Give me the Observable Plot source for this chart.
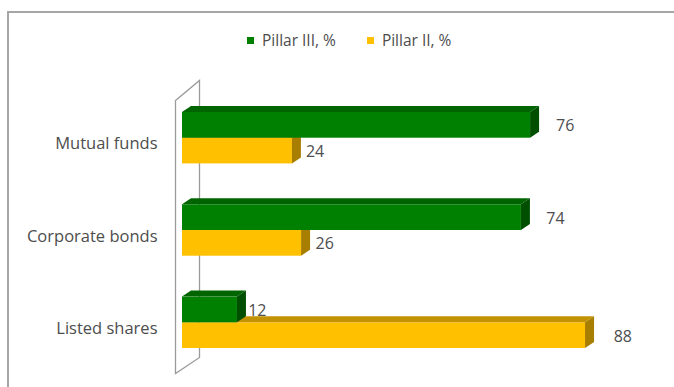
<!DOCTYPE html>
<html><head><meta charset="utf-8">
<script src="https://cdn.jsdelivr.net/npm/d3@7"></script>
<script src="https://cdn.jsdelivr.net/npm/@observablehq/plot@0.6"></script>
<style>
body{margin:0;background:#fff;font-family:"Open Sans",sans-serif;}
#chart{position:relative;width:674px;height:387px;overflow:hidden;background:#fff;}
#frame{position:absolute;left:7px;top:11px;width:720px;height:420px;border:2px solid #a6a6a6;box-sizing:border-box;}
#legend{position:absolute;top:0;left:0;width:674px;height:60px;}
#legend .items{position:absolute;left:247px;top:29px;display:flex;align-items:center;font-size:15.5px;color:#4d4d4d;white-space:nowrap;}
#legend .sw{display:inline-block;width:7px;height:7px;margin-right:8px;}
#legend .item{display:flex;align-items:center;margin-right:31px;}
#plot{position:absolute;left:0;top:60px;}
</style></head>
<body><div id="chart"><div id="frame"></div><div id="legend"><div class="items"></div></div><div id="plot"></div></div>
<script>
const categories = ["Mutual funds", "Corporate bonds", "Listed shares"];
const seriesNames = ["Pillar III, %", "Pillar II, %"];
const pillar3 = [76, 74, 12];
const pillar2 = [24, 26, 88];
const frontColors = ["#008000", "#FFC000"];
const topColors = ["#006400", "#C39200"];
const sideColors = ["#004F00", "#A87E00"];

const rows3 = categories.map((c, i) => ({category: c, series: seriesNames[0], value: pillar3[i]}));
const rows2 = categories.map((c, i) => ({category: c, series: seriesNames[1], value: pillar2[i]}));

// legend
const items = document.querySelector("#legend .items");
seriesNames.forEach((s, i) => {
  const it = document.createElement("div");
  it.className = "item";
  it.innerHTML = `<span class="sw" style="background:${frontColors[i]}"></span><span>${s}</span>`;
  items.appendChild(it);
});

const W = 674, H = 327;
const yRange = [52, 288], pInner = 0.443, pOuter = 0;
const band = d3.scaleBand().domain(categories).range(yRange).paddingInner(pInner).paddingOuter(pOuter);
const half = band.bandwidth() / 2;
const DX = 9, DY = 6;

function faces(data, k, upper) {
  return (index, scales, values, dims, context, next) => {
    const g = next(index, scales, values, dims, context);
    const x = scales.x, y = scales.y;
    const bw = y.bandwidth();
    const sel = d3.select(g);
    for (const i of index) {
      const d = data[i];
      const x0 = x(0), x1 = x(d.value);
      const t = y(d.category) + (upper ? 0 : bw / 2);
      const b = t + bw / 2;
      sel.append("polygon")
        .attr("points", [[x0, t], [x1, t], [x1 + DX, t - DY], [x0 + DX, t - DY]].map(p => p.join(",")).join(" "))
        .attr("fill", topColors[k]);
      sel.append("polygon")
        .attr("points", [[x1, t], [x1 + DX, t - DY], [x1 + DX, b - DY], [x1, b]].map(p => p.join(",")).join(" "))
        .attr("fill", sideColors[k]);
    }
    return g;
  };
}

function wall(index, scales, values, dims, context, next) {
  const g = next(index, scales, values, dims, context);
  const x0 = scales.x(0);
  const [ya, yb] = scales.y.range();
  const L = x0 - 7, R = x0 + 17;
  const pts = [[L, ya - 12], [R, ya - 32], [R, yb + 9], [L, yb + 25]];
  d3.select(g).append("polygon")
    .attr("points", pts.map(p => p.join(",")).join(" "))
    .attr("fill", "#fff").attr("stroke", "#9a9a9a").attr("stroke-width", 1.3);
  return g;
}

const chart = Plot.plot({
  width: W, height: H,
  marginLeft: 182, marginRight: 34, marginTop: 0, marginBottom: 0,
  style: {fontFamily: "'Open Sans', sans-serif", fontSize: "16px", color: "#4d4d4d", background: "transparent"},
  x: {domain: [0, 100], range: [182, 640], axis: null},
  y: {domain: categories, range: yRange, paddingInner: pInner, paddingOuter: pOuter, round: false, label: null},
  marks: [
    Plot.dot([0], {x: () => 0, r: 0, render: wall}),
    Plot.axisY({anchor: "left", tickSize: 0, tickPadding: 25, dy: 6, fontSize: 16.5, label: null}),
    Plot.barX(rows2, {x: "value", y: "category", fill: frontColors[1], insetTop: half, insetBottom: 0, render: faces(rows2, 1, false)}),
    Plot.barX(rows3, {x: "value", y: "category", fill: frontColors[0], insetTop: 0, insetBottom: half, render: faces(rows3, 0, true)}),
    Plot.text(rows3, {x: d => d.value * 1.05, y: "category", text: d => String(d.value), dx: 8, dy: -half / 2 + 1, textAnchor: "start", fontSize: 16, fill: "#4d4d4d"}),
    Plot.text(rows2, {x: d => d.value * 1.05, y: "category", text: d => String(d.value), dx: 8, dy: half / 2 + 1, textAnchor: "start", fontSize: 16, fill: "#4d4d4d"})
  ]
});
document.getElementById("plot").appendChild(chart);
</script>
</body></html>
